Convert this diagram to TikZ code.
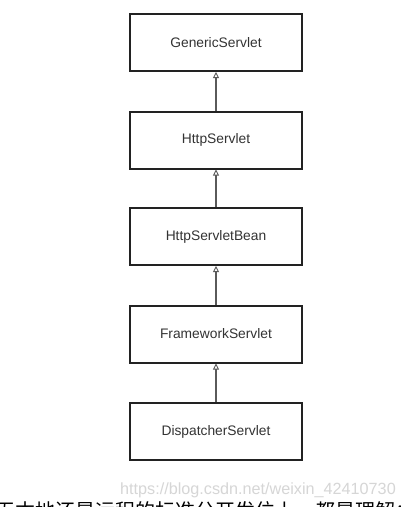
\documentclass[tikz,border=0pt]{standalone}
\usepackage{fontspec}
\setmainfont{Liberation Sans}
\newfontfamily\cjk{Noto Sans CJK SC}
\usetikzlibrary{arrows.meta}
\definecolor{boxline}{HTML}{222222}
\definecolor{boxtext}{HTML}{333333}
\definecolor{linkgray}{HTML}{5A5A5A}
\definecolor{wmgray}{HTML}{D6D6D6}
\tikzset{
  classbox/.style={draw=boxline, line width=2pt, fill=white, minimum width=172pt, minimum height=57pt,
    inner sep=0pt, text=boxtext, font=\fontsize{13.8}{16}\selectfont},
  inherit/.style={draw=linkgray, line width=1.1pt, -{Triangle[open, width=6pt, length=6pt, line width=0.9pt]}}
}
\begin{document}
\begin{tikzpicture}[x=1pt,y=-1pt]
\useasboundingbox (0,0) rectangle (401,507);
\fill[white] (0,0) rectangle (401,507);
\node[classbox] (gs) at (216,42.5) {GenericServlet};
\node[classbox] (hs) at (216,140) {HttpServlet};
\node[classbox] (hsb) at (216,236.5) {HttpServletBean};
\node[classbox] (fs) at (216,334) {FrameworkServlet};
\node[classbox] (ds) at (216,431.5) {DispatcherServlet};
\draw[inherit] (hs.north) -- (gs.south);
\draw[inherit] (hsb.north) -- (hs.south);
\draw[inherit] (fs.north) -- (hsb.south);
\draw[inherit] (ds.north) -- (fs.south);
\node[text=wmgray, font=\fontsize{16.2}{17}\selectfont, anchor=base west, inner sep=0pt] (wm) at (120,494) {https://blog.csdn.net/weixin\_42410730};
\begin{scope}
\clip (0,0) rectangle (401,507);
\node[text=black, font=\cjk\fontsize{20}{22}\selectfont, anchor=base west, inner sep=0pt] (cut) at (-5,518.5) {无本地还是远程的标准分开发位上，都是理解：};
\end{scope}
\end{tikzpicture}
\end{document}
